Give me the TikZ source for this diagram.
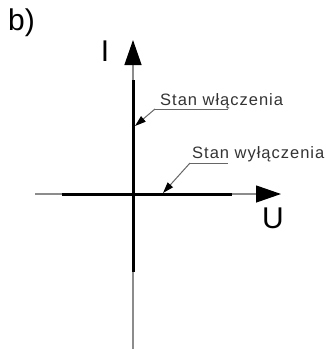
\documentclass[tikz,border=0pt]{standalone}
\usepackage{fontspec}
\setmainfont{Liberation Sans}
\usetikzlibrary{arrows.meta}
\begin{document}
\begin{tikzpicture}[x=1pt,y=-1pt,
  thinax/.style={draw=black!45,line width=1.3pt},
  thickax/.style={draw=black,line width=3pt},
  bigtip/.style={-{Triangle[length=25pt,width=17pt,color=black]}},
  guide/.style={draw=black!60,line width=1pt},
  leader/.style={guide,-{Triangle[length=11pt,width=7pt,color=black]}},
  lbl/.style={inner sep=0pt,font=\fontsize{30}{30}\selectfont},
  small/.style={inner sep=0pt,anchor=base west,text=black!80,font=\fontsize{16.5}{16.5}\selectfont\addfontfeature{LetterSpace=6}}
]
\useasboundingbox (0,0) rectangle (326,349);
% axes
\coordinate (vtop) at (133,40);
\coordinate (vbot) at (133,349);
\coordinate (vt1) at (133,80);
\coordinate (vt2) at (133,272);
\coordinate (hl) at (35,194);
\coordinate (hr) at (281,194);
\coordinate (ht1) at (62,194);
\coordinate (ht2) at (232,194);
\draw[thinax] (vbot) -- (vt2);
\draw[thinax,bigtip] (vt1) -- (vtop);
\draw[thickax] (vt1) -- (vt2);
\draw[thinax] (hl) -- (ht1);
\draw[thinax,bigtip] (ht2) -- (hr);
\draw[thickax] (ht1) -- (ht2);
% labels
\node[lbl,anchor=south west] (b) at (8,37) {b)};
\node[lbl,anchor=south] (I) at (105,62) {I};
\node[lbl,anchor=north] (U) at (273,208) {U};
% annotations
\node[small] (on) at (160,105) {Stan włączenia};
\node[small] (off) at (192,158) {Stan wyłączenia};
\coordinate (onA) at (155,109);
\coordinate (onB) at (228,109);
\coordinate (offA) at (190,163);
\coordinate (offB) at (228,163);
\coordinate (onT) at (135,126);
\coordinate (offT) at (163,193);
\draw[guide] (onB) -- (onA);
\draw[leader] (onA) -- (onT);
\draw[guide] (offB) -- (offA);
\draw[leader] (offA) -- (offT);
\end{tikzpicture}
\end{document}
